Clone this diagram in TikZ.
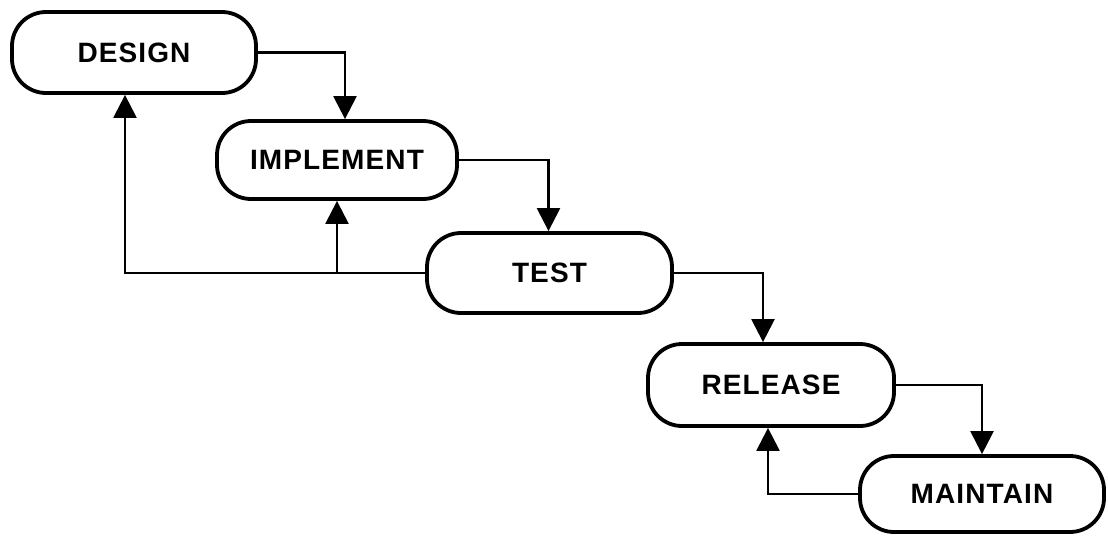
\documentclass[tikz,border=0pt]{standalone}
\usepackage{fontspec}
\setmainfont{Liberation Sans}
\newfontfamily\boxfont[LetterSpace=4]{Liberation Sans}
\usetikzlibrary{arrows.meta}
\begin{document}
\begin{tikzpicture}[x=1pt,y=-1pt,
  phase/.style={draw,line width=3.8pt,rounded corners=34pt,minimum height=80pt,minimum width=244pt,inner sep=0pt,font=\boxfont\fontsize{28}{30}\selectfont\bfseries},
  flow/.style={line width=2.4pt,-{Triangle[length=23pt,width=23pt]}},
  plain/.style={line width=2.4pt}]
\useasboundingbox (0,0) rectangle (1108,538);
\node[phase,minimum width=244pt,minimum height=81pt] (design) at (134,52.5) {DESIGN};
\node[phase,minimum width=240pt,minimum height=78pt] (implement) at (337,160) {IMPLEMENT};
\node[phase,minimum width=245pt,minimum height=80pt] (test) at (549.5,273) {TEST};
\node[phase,minimum width=246pt,minimum height=82pt] (release) at (771,385) {RELEASE};
\node[phase,minimum width=244pt,minimum height=76pt] (maintain) at (982,494) {MAINTAIN};
% forward flow
\draw[flow] (design.east) -| ([xshift=8pt]implement.north);
\draw[flow] (implement.east) -| ([xshift=-1pt]test.north);
\draw[flow] (test.east) -| ([xshift=-8pt]release.north);
\draw[flow] (release.east) -| (maintain.north);
% feedback
\coordinate (branch) at (implement.south |- test.west);
\draw[flow] (test.west) -| ([xshift=-9pt]design.south);
\draw[flow] (branch) -- (implement.south);
\draw[flow] (maintain.west) -| ([xshift=-3pt]release.south);
\end{tikzpicture}
\end{document}
